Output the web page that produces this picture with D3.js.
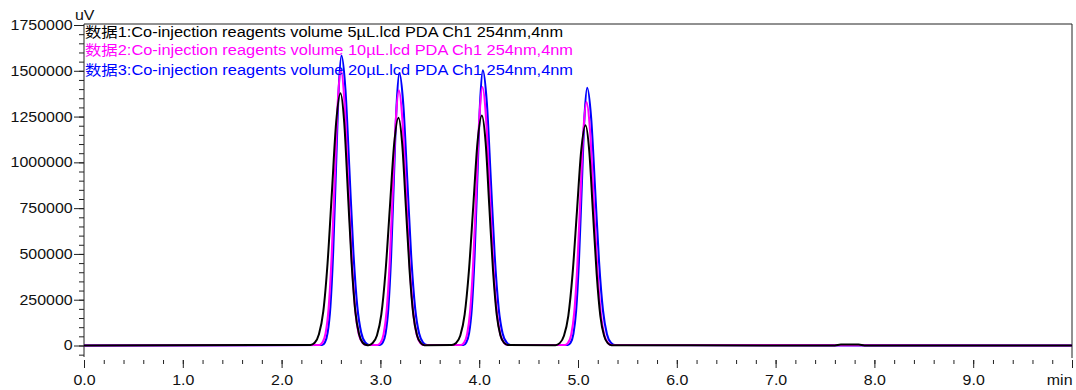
<!DOCTYPE html>
<html>
<head>
<meta charset="utf-8">
<script src="https://cdn.jsdelivr.net/npm/d3@7"></script>
<style>
  body { margin: 0; background: #fff; }
  svg text { font-family: "Liberation Sans", Arial, "Noto Sans CJK SC", sans-serif; font-size: 14px; fill: #111; }
</style>
</head>
<body>
<script>
// chromatogram overlay, 3 injections (values in thousands of uV)

const legendLabels = [
    "数据1:Co-injection reagents volume 5µL.lcd PDA Ch1 254nm,4nm",
    "数据2:Co-injection reagents volume 10µL.lcd PDA Ch1 254nm,4nm",
    "数据3:Co-injection reagents volume 20µL.lcd PDA Ch1 254nm,4nm"
];

const xTicks = [0, 1, 2, 3, 4, 5, 6, 7, 8, 9, 10];
const yTicks = [0, 250000, 500000, 750000, 1000000, 1250000, 1500000, 1750000];

const blackTimes = [0,
    2.291, 2.335, 2.378, 2.422, 2.465, 2.509, 2.552, 2.596, 2.634, 2.671, 2.709, 2.746, 2.784, 2.821, 2.859,
    2.878, 2.922, 2.965, 3.009, 3.052, 3.096, 3.139, 3.183, 3.221, 3.258, 3.296, 3.333, 3.371, 3.408, 3.446,
    3.722, 3.766, 3.809, 3.853, 3.896, 3.940, 3.983, 4.027, 4.065, 4.102, 4.140, 4.177, 4.215, 4.252, 4.290,
    4.771, 4.815, 4.858, 4.902, 4.945, 4.989, 5.032, 5.076, 5.114, 5.151, 5.189, 5.226, 5.264, 5.301, 5.339,
    7.60, 7.66, 7.84, 7.90, 10];
const blackValues = [0,
    3, 15, 61, 186, 448, 836, 1217, 1378, 1217, 836, 448, 186, 61, 15, 3,
    2, 14, 55, 168, 404, 755, 1098, 1244, 1098, 755, 404, 168, 55, 14, 2,
    3, 14, 55, 170, 408, 762, 1109, 1256, 1109, 762, 408, 170, 55, 14, 3,
    2, 13, 53, 162, 391, 730, 1061, 1202, 1061, 730, 391, 162, 53, 13, 2,
    0, 5, 5, 0, 0];

const magentaTimes = [0,
    2.383, 2.414, 2.445, 2.476, 2.507, 2.538, 2.569, 2.600, 2.636, 2.672, 2.708, 2.744, 2.780, 2.816, 2.852,
    2.970, 3.001, 3.032, 3.063, 3.094, 3.125, 3.156, 3.187, 3.223, 3.259, 3.295, 3.331, 3.367, 3.403, 3.439,
    3.816, 3.847, 3.878, 3.909, 3.940, 3.971, 4.002, 4.033, 4.069, 4.105, 4.141, 4.177, 4.213, 4.249, 4.285,
    4.869, 4.900, 4.931, 4.962, 4.993, 5.024, 5.055, 5.086, 5.122, 5.158, 5.194, 5.230, 5.266, 5.302, 5.338,
    10];
const magentaValues = [0,
    3, 17, 66, 203, 490, 915, 1331, 1507, 1331, 915, 490, 203, 66, 17, 3,
    3, 15, 61, 188, 453, 846, 1230, 1393, 1230, 846, 453, 188, 61, 15, 3,
    3, 16, 62, 190, 459, 856, 1246, 1411, 1246, 856, 459, 190, 62, 16, 3,
    3, 15, 58, 179, 432, 807, 1174, 1329, 1174, 807, 432, 179, 58, 15, 3,
    0];

const blueTimes = [0,
    2.410, 2.438, 2.466, 2.494, 2.522, 2.550, 2.578, 2.606, 2.646, 2.686, 2.726, 2.766, 2.806, 2.846, 2.886,
    2.996, 3.024, 3.052, 3.080, 3.108, 3.136, 3.164, 3.192, 3.232, 3.272, 3.312, 3.352, 3.392, 3.432, 3.472,
    3.841, 3.869, 3.897, 3.925, 3.953, 3.981, 4.009, 4.037, 4.077, 4.117, 4.157, 4.197, 4.237, 4.277, 4.317,
    4.897, 4.925, 4.953, 4.981, 5.009, 5.037, 5.065, 5.093, 5.133, 5.173, 5.213, 5.253, 5.293, 5.333, 5.373,
    10];
const blueValues = [0,
    3, 17, 70, 214, 514, 961, 1398, 1583, 1398, 961, 514, 214, 70, 17, 3,
    3, 16, 65, 201, 483, 903, 1313, 1487, 1313, 903, 483, 201, 65, 16, 3,
    3, 17, 66, 203, 488, 912, 1326, 1502, 1326, 912, 488, 203, 66, 17, 3,
    3, 15, 62, 190, 457, 854, 1242, 1407, 1242, 854, 457, 190, 62, 15, 3,
    0];

const colors = ["#000000", "#ff00ff", "#0000ff"];
const stretch = 1.14; // text in the original is a bit wide

const width = 1076;
const height = 390;
const plotLeft = 84, plotRight = 1072, plotTop = 24, plotBottom = 357;

const svg = d3.select("body")
    .append("svg")
    .attr("width", width)
    .attr("height", height);

const xScale = d3.scaleLinear().domain([0, 10]).range([plotLeft, plotRight]);
const yScale = d3.scaleLinear().domain([0, 1750000]).range([345.5, 25]);

// frame (no bottom line)
svg.append("path")
    .attr("d", `M${plotLeft},${plotBottom}V${plotTop}H${plotRight}V${plotBottom + 1}`)
    .attr("fill", "none")
    .attr("stroke", "#222")
    .attr("stroke-width", 1);

// y axis
const yMinor = d3.range(-50000, 1750001, 50000);
svg.append("g")
    .attr("transform", `translate(${plotLeft},0)`)
    .call(d3.axisLeft(yScale).tickValues(yMinor).tickSize(5).tickFormat(""))
    .call(g => g.select(".domain").remove())
    .call(g => g.selectAll("line").attr("stroke", "#222"));

svg.append("g")
    .attr("transform", `translate(${plotLeft},0)`)
    .call(d3.axisLeft(yScale).tickValues(yTicks).tickSize(10).tickFormat(d3.format("d")))
    .call(g => g.select(".domain").remove())
    .call(g => g.selectAll("line").attr("stroke", "#222"))
    .call(g => g.selectAll("text")
        .attr("x", -11.3 / stretch)
        .attr("transform", `scale(${stretch},1)`)
        .style("font-size", "14px")
        .attr("fill", "#111"));

// x axis
const xAxisY = 360;
svg.append("g")
    .attr("transform", `translate(0,${xAxisY})`)
    .call(d3.axisBottom(xScale).tickValues(d3.range(0, 10.01, 0.2)).tickSize(4).tickFormat(""))
    .call(g => g.select(".domain").remove())
    .call(g => g.selectAll("line").attr("stroke", "#222"));

svg.append("g")
    .attr("transform", `translate(0,${xAxisY})`)
    .call(d3.axisBottom(xScale).tickValues(xTicks).tickSize(8)
        .tickFormat(d => d === 10 ? "min" : d3.format(".1f")(d)))
    .call(g => g.select(".domain").remove())
    .call(g => g.selectAll("line").attr("stroke", "#222"))
    .call(g => g.selectAll("text")
        .attr("y", 15)
        .attr("transform", `scale(${stretch},1)`)
        .style("font-size", "14px")
        .attr("fill", "#111")
        .attr("text-anchor", d => d === 10 ? "end" : "middle"));

// unit label
svg.append("text")
    .attr("transform", `translate(75,20) scale(${stretch},1)`)
    .text("uV");

// traces
const series = [
    { times: blueTimes, values: blueValues, color: colors[2], w: 2.1 },
    { times: magentaTimes, values: magentaValues, color: colors[1], w: 2.1 },
    { times: blackTimes, values: blackValues, color: colors[0], w: 2 }
];

const line = d3.line()
    .x(d => xScale(d[0]))
    .y(d => yScale(d[1] * 1000))
    .curve(d3.curveMonotoneX);

series.forEach(s => {
    const pts = s.times.map((t, i) => [t, s.values[i]]);
    svg.append("path")
        .datum(pts)
        .attr("d", line)
        .attr("fill", "none")
        .attr("stroke", s.color)
        .attr("stroke-width", s.w)
        .attr("stroke-linejoin", "round");
});

// legend
const legendY = [36.7, 55, 75];
const legendW = [478, 488, 488];
svg.selectAll(".legend")
    .data(legendLabels)
    .enter()
    .append("text")
    .attr("class", "legend")
    .attr("x", 85)
    .attr("y", (d, i) => legendY[i])
    .attr("textLength", (d, i) => legendW[i])
    .attr("lengthAdjust", "spacingAndGlyphs")
    .style("fill", (d, i) => colors[i])
    .text(d => d);
</script>
</body>
</html>
